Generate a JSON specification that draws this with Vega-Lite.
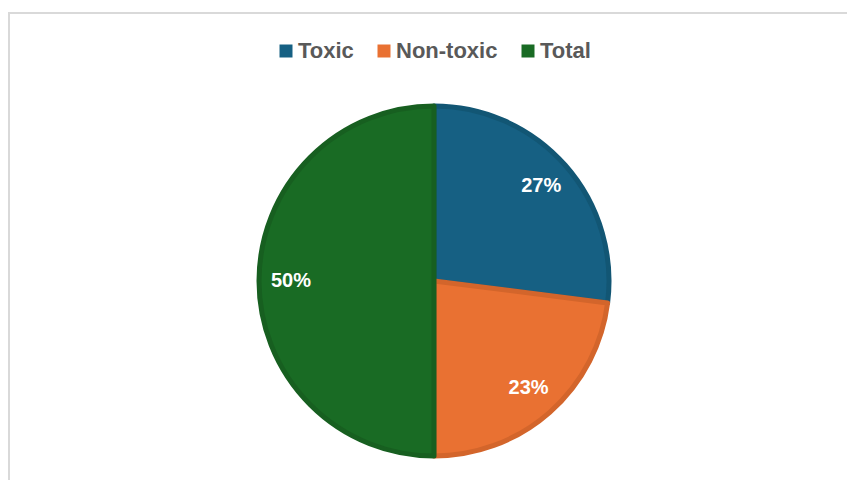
{
  "$schema": "https://vega.github.io/schema/vega-lite/v6.json",
  "width": 841,
  "height": 470,
  "autosize": {"type": "none"},
  "padding": {"left": 9, "top": 13, "right": 0, "bottom": 0},
  "background": "white",
  "config": {
    "view": {"stroke": null},
    "font": "Liberation Sans"
  },
  "layer": [
    {
      "data": {"values": [{"frame": "border"}]},
      "mark": {"type": "rect", "fill": null, "stroke": "#d9d9d9", "strokeWidth": 2},
      "encoding": {}
    },
    {
      "data": {
        "values": [
          {"category": "Toxic", "share": 27, "label": "27%", "rank": 1},
          {"category": "Non-toxic", "share": 23, "label": "23%", "rank": 2},
          {"category": "Total", "share": 50, "label": "50%", "rank": 3}
        ]
      },
      "encoding": {
        "theta": {"field": "share", "type": "quantitative", "stack": true},
        "order": {"field": "rank", "type": "quantitative"}
      },
      "layer": [
        {
          "mark": {"type": "arc", "radius": 175, "strokeWidth": 5, "strokeJoin": "round", "xOffset": 4.5, "yOffset": 33},
          "encoding": {
            "color": {
              "field": "category",
              "type": "nominal",
              "scale": {"domain": ["Toxic", "Non-toxic", "Total"], "range": ["#166083", "#E97132", "#196B24"]},
              "legend": {
                "title": null,
                "orient": "none",
                "direction": "horizontal",
                "legendX": 266,
                "legendY": 27,
                "symbolType": "square",
                "symbolSize": 169,
                "symbolStrokeWidth": 0,
                "labelFont": "Liberation Sans",
                "labelFontSize": 22,
                "labelFontWeight": "bold",
                "labelColor": "#595959",
                "labelOffset": 1,
                "columnPadding": 19
              }
            },
            "stroke": {
              "field": "category",
              "type": "nominal",
              "scale": {"domain": ["Toxic", "Non-toxic", "Total"], "range": ["#125674", "#D3652B", "#175F20"]},
              "legend": null
            }
          }
        },
        {
          "mark": {"type": "text", "radius": 143, "xOffset": 4.5, "yOffset": 33, "fontSize": 20, "fontWeight": "bold", "color": "white"},
          "encoding": {
            "text": {"field": "label", "type": "nominal"}
          }
        }
      ]
    }
  ]
}
